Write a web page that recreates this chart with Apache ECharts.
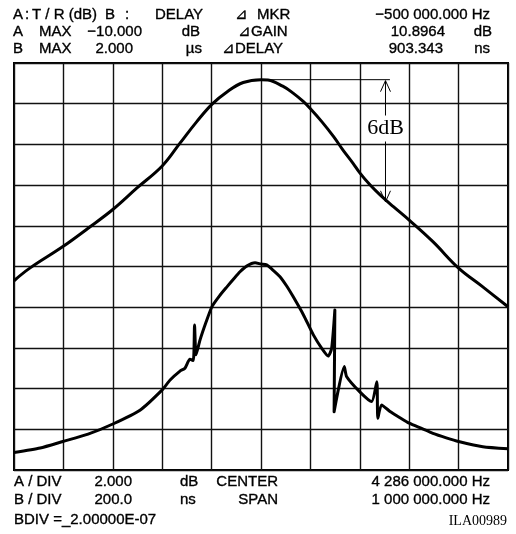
<!DOCTYPE html>
<html>
<head>
<meta charset="utf-8">
<script src="https://cdn.jsdelivr.net/npm/echarts@6/dist/echarts.min.js"></script>
<style>
  html, body { margin: 0; padding: 0; background: #fff; }
  #chart { width: 516px; height: 534px; }
</style>
</head>
<body>
<div id="chart"></div>
<script>
// Frequency offset from CENTER (kHz), span 1 MHz
const freqTicks = [-500, -400, -300, -200, -100, 0, 100, 200, 300, 400, 500];

// Trace A: T/R gain (dB), A MAX -10 dB, 2 dB/div
const freqA = [-500, -468, -401, -350, -300, -251, -200, -164, -130, -99, -69, -36, 0, 14, 44, 65, 86, 99, 123, 147, 166, 186, 200, 221, 241, 268, 300, 348, 400, 449, 500];
const gainA = [-20.70, -20.08, -19.02, -18.12, -17.20, -16.14, -15.06, -13.94, -12.88, -12.02, -11.42, -10.96, -10.82, -10.84, -11.14, -11.48, -11.90, -12.22, -12.88, -13.62, -14.28, -14.92, -15.40, -16.00, -16.48, -17.06, -17.72, -18.78, -20.08, -21.00, -21.98];

// Trace B: group delay (ns), B MAX 2 us, 200 ns/div
const freqB = [-500, -447, -401, -350, -300, -245, -200, -184, -164, -154, -144, -137, -134.5, -131.5, -123.5, -111, -99, -84, -69, -55, -42.5, -29, -12, 0, 11.5, 21.6, 38.5, 52, 65, 86, 106, 123, 136, 143, 149.5, 148, 168.6, 173.5, 200, 224, 234.5, 236.5, 244, 262, 278, 300, 325, 348, 375, 400, 449, 500];
const delayB = [86, 108, 140, 176, 226, 294, 394, 442, 486, 500, 544, 538, 712, 566, 638, 728, 804, 856, 900, 940, 974, 1002, 1018, 1012, 1008, 988, 950, 904, 852, 762, 664, 598, 560, 598, 786, 286, 508, 458, 384, 336, 434, 254, 320, 286, 262, 230, 204, 180, 158, 140, 114, 104];

// 6 dB bandwidth marker: [peak freq, peak gain, line end freq, arrow freq, drop dB]
const marker6dB = [0, -10.82, 261, 252, 6];

const chart = echarts.init(document.getElementById('chart'));

const sans = '"Liberation Sans", Arial, Helvetica, sans-serif';
function txt(text, x, y, align, font) {
  return {
    type: 'text', silent: true,
    style: {
      text: text, x: x, y: y, fill: '#000',
      font: font || ('15px ' + sans),
      textAlign: align || 'left', textVerticalAlign: 'middle',
      stroke: font ? null : '#000', lineWidth: font ? 0 : 0.35
    }
  };
}

const graphics = [
  // header
  txt('A', 13, 15), txt(':', 25, 15), txt('T / R (dB)', 32, 15), txt('B', 105, 15), txt(':', 125, 15),
  txt('DELAY', 155, 15), txt('\u22BF', 235, 15), txt('MKR', 257, 15),
  txt('\u2212500 000.000 Hz', 490, 15, 'right'),
  txt('A', 13, 32), txt('MAX', 39, 32), txt('\u221210.000', 142, 32, 'right'), txt('dB', 200, 32, 'right'),
  txt('\u22BFGAIN', 238, 32), txt('10.8964', 445, 32, 'right'), txt('dB', 492, 32, 'right'),
  txt('B', 13, 49), txt('MAX', 39, 49), txt('2.000', 133, 49, 'right'), txt('\u00B5s', 202, 49, 'right'),
  txt('\u22BFDELAY', 222, 49), txt('903.343', 443, 49, 'right'), txt('ns', 490, 49, 'right'),
  // footer
  txt('A / DIV', 14, 482), txt('2.000', 132, 482, 'right'), txt('dB', 180, 482), txt('CENTER', 278, 482, 'right'),
  txt('4 286 000.000 Hz', 490, 482, 'right'),
  txt('B / DIV', 14, 500), txt('200.0', 132, 500, 'right'), txt('ns', 180, 500), txt('SPAN', 278, 500, 'right'),
  txt('1 000 000.000 Hz', 490, 500, 'right'),
  txt('BDIV =_2.00000E-07', 14, 520),
  txt('ILA00989', 507, 521, 'right', '14px "Liberation Serif", "Times New Roman", serif')
];

const option = {
  animation: false,
  backgroundColor: '#fff',
  grid: { left: 14, top: 63, width: 494, height: 407, show: true, borderColor: '#000', borderWidth: 2, backgroundColor: 'transparent' },
  xAxis: {
    type: 'value', min: freqTicks[0], max: freqTicks[freqTicks.length - 1], interval: 100,
    axisLine: { show: false }, axisTick: { show: false }, axisLabel: { show: false },
    splitLine: { show: true, lineStyle: { color: '#111', width: 1.4 } }
  },
  yAxis: [
    {
      type: 'value', min: -30, max: -10, interval: 2,
      axisLine: { show: false }, axisTick: { show: false }, axisLabel: { show: false },
      splitLine: { show: true, lineStyle: { color: '#111', width: 1.4 } }
    },
    {
      type: 'value', min: 0, max: 2000, interval: 200,
      axisLine: { show: false }, axisTick: { show: false }, axisLabel: { show: false },
      splitLine: { show: false }
    }
  ],
  series: [
    {
      name: 'A', type: 'line', yAxisIndex: 0, showSymbol: false, smooth: 0.4, clip: true,
      lineStyle: { color: '#000', width: 3 },
      data: freqA.map((f, i) => [f, gainA[i]])
    },
    {
      name: 'B', type: 'line', yAxisIndex: 1, showSymbol: false, smooth: 0.2, clip: true,
      lineStyle: { color: '#000', width: 3, join: 'round' },
      data: freqB.map((f, i) => [f, delayB[i]])
    },
    {
      name: '6dB', type: 'custom', yAxisIndex: 0, silent: true, clip: false, z: 5,
      data: [marker6dB],
      renderItem: function (params, api) {
        const pk = api.value(0), pv = api.value(1), endF = api.value(2), arF = api.value(3), drop = api.value(4);
        const p0 = api.coord([pk, pv]);
        const p1 = api.coord([endF, pv]);
        const a0 = api.coord([arF, pv]);
        const a1 = api.coord([arF, pv - drop]);
        const lab = api.coord([arF, pv - drop * 0.4]);
        const ls = { stroke: '#000', lineWidth: 1, fill: null };
        return {
          type: 'group',
          children: [
            { type: 'line', shape: { x1: p0[0], y1: p0[1], x2: p1[0], y2: p1[1] }, style: ls },
            { type: 'line', shape: { x1: a0[0], y1: a0[1] + 1, x2: a1[0], y2: a1[1] }, style: ls },
            { type: 'polyline', shape: { points: [[a0[0] - 5, a0[1] + 12], [a0[0], a0[1] + 1], [a0[0] + 5, a0[1] + 12]] }, style: ls },
            { type: 'polyline', shape: { points: [[a1[0] - 5, a1[1] - 11], [a1[0], a1[1]], [a1[0] + 5, a1[1] - 11]] }, style: ls },
            {
              type: 'text', z2: 10,
              style: {
                text: '6dB', x: lab[0], y: lab[1], textAlign: 'center', textVerticalAlign: 'middle',
                font: '22px "Liberation Serif", "Times New Roman", serif', fill: '#000',
                backgroundColor: '#fff', padding: [2, 1]
              }
            }
          ]
        };
      }
    }
  ],
  graphic: graphics
};

chart.setOption(option);
</script>
</body>
</html>
